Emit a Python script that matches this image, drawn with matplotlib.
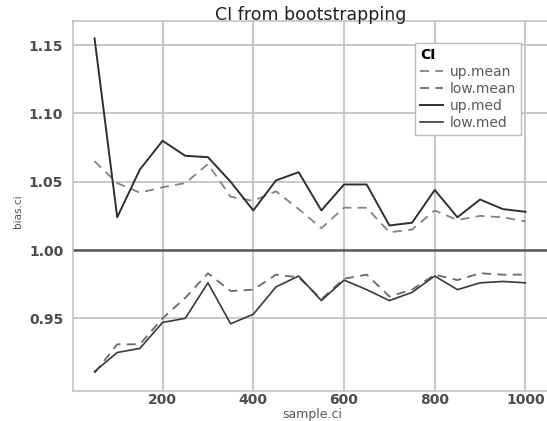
import matplotlib
matplotlib.use("Agg")
import matplotlib.pyplot as plt

# bootstrap CI bounds (mean vs. median) by sample size
sample_ci = [50, 100, 150, 200, 250, 300, 350, 400, 450, 500,
             550, 600, 650, 700, 750, 800, 850, 900, 950, 1000]
up_mean = [1.065, 1.049, 1.042, 1.046, 1.049, 1.063, 1.039, 1.036, 1.043, 1.030,
           1.016, 1.031, 1.031, 1.013, 1.015, 1.029, 1.022, 1.025, 1.024, 1.021]
low_mean = [0.910, 0.931, 0.931, 0.950, 0.965, 0.983, 0.970, 0.971, 0.982, 0.980,
            0.964, 0.979, 0.982, 0.966, 0.971, 0.982, 0.978, 0.983, 0.982, 0.982]
up_med = [1.155, 1.024, 1.059, 1.080, 1.069, 1.068, 1.050, 1.029, 1.051, 1.057,
          1.029, 1.048, 1.048, 1.018, 1.020, 1.044, 1.024, 1.037, 1.030, 1.028]
low_med = [0.911, 0.925, 0.928, 0.947, 0.950, 0.976, 0.946, 0.953, 0.973, 0.981,
           0.963, 0.978, 0.971, 0.963, 0.969, 0.981, 0.971, 0.976, 0.977, 0.976]

x_ticks = [200, 400, 600, 800, 1000]
y_ticks = [0.95, 1.00, 1.05, 1.10, 1.15]

W, H = 547, 421
fig = plt.figure(figsize=(W / 100, H / 100), dpi=100)
ax = fig.add_axes([73 / W, 30 / H, 474 / W, 370 / H])

grid_col = "#c4c4c4"
ax.set_xlim(2.5, 1047.5)
ax.set_ylim(0.8968, 1.1677)
ax.set_xticks(x_ticks)
ax.set_yticks(y_ticks)
ax.set_yticklabels([f"{v:.2f}" for v in y_ticks])
ax.grid(True, color=grid_col, linewidth=1.3)
ax.set_axisbelow(True)
ax.tick_params(length=0, labelsize=10, labelcolor="#4d4d4d")
ax.tick_params(axis="y", pad=7)
ax.tick_params(axis="x", pad=1.5)
for lab in ax.get_xticklabels() + ax.get_yticklabels():
    lab.set_fontweight("bold")
for side, sp in ax.spines.items():
    sp.set_color(grid_col)
    sp.set_linewidth(1.2)
ax.spines["right"].set_visible(False)

ax.axhline(1.0, color="#5a5a5a", linewidth=1.8, zorder=1.5)

l1, = ax.plot(sample_ci, up_mean, color="#828282", linewidth=1.3, dashes=(5, 3.5))
l2, = ax.plot(sample_ci, low_mean, color="#6a6a6a", linewidth=1.3, dashes=(5, 3.5))
l3, = ax.plot(sample_ci, up_med, color="#303030", linewidth=1.4)
l4, = ax.plot(sample_ci, low_med, color="#3a3a3a", linewidth=1.2)

leg = ax.legend([l1, l2, l3, l4], ["up.mean", "low.mean", "up.med", "low.med"],
                title="CI", loc="upper left",
                bbox_to_anchor=(415 / W, 1 - 43 / H), bbox_transform=fig.transFigure,
                fontsize=10, title_fontproperties={"weight": "bold", "size": 10},
                alignment="left", fancybox=False, framealpha=1,
                edgecolor="#bbbbbb", handlelength=1.65, handletextpad=0.5,
                labelspacing=0.22, borderpad=0.35, borderaxespad=0)
leg.get_frame().set_linewidth(1.0)
for t in leg.get_texts():
    t.set_color("#5a5a5a")

fig.text(311 / W, 1 - 20.5 / H, "CI from bootstrapping", ha="center",
         va="baseline", fontsize=12.5, color="#222222")
fig.text(312 / W, 1 - 418 / H, "sample.ci", ha="center", va="baseline",
         fontsize=9, color="#555555")
fig.text(18 / W, 1 - 211 / H, "bias.ci", ha="center", va="center",
         rotation=90, fontsize=7.5, color="#555555")

fig.savefig("out.png", dpi=100)
